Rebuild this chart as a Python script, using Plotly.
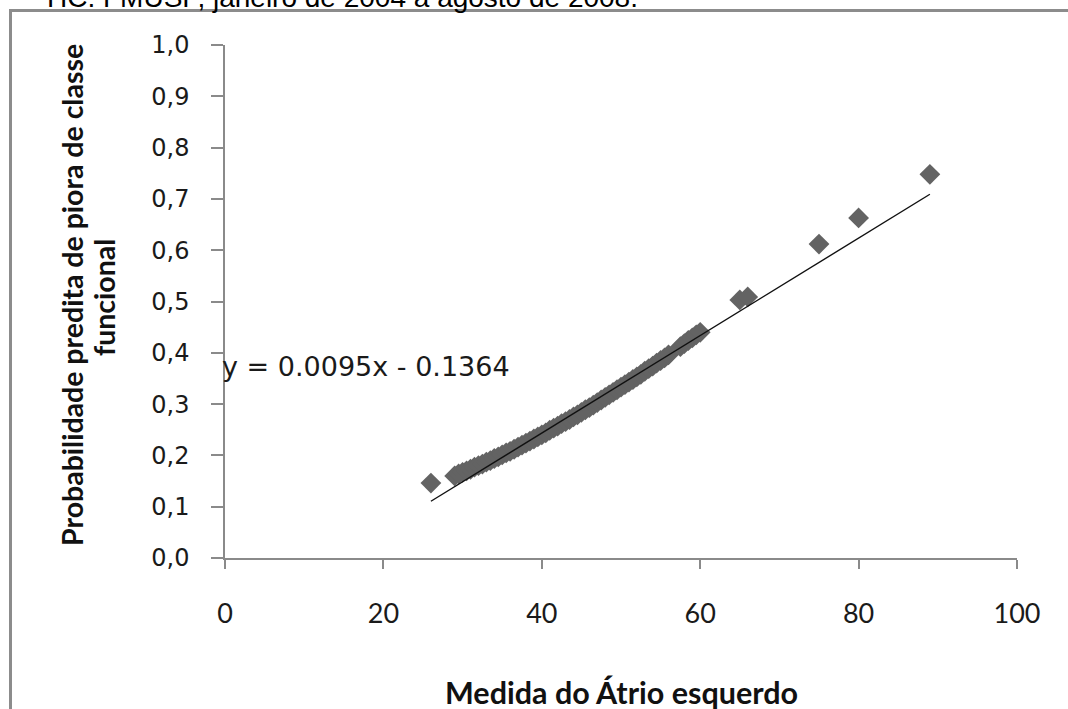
import plotly.graph_objects as go

# ---- data ----
atrio = [26, 29, 29.5, 30, 30.5, 31, 31.5, 32, 32.5, 33, 33.5, 34, 34.5, 35, 35.5,
         36, 36.5, 37, 37.5, 38, 38.5, 39, 39.5, 40, 40.5, 41, 41.5, 42, 42.5,
         43, 43.5, 44, 44.5, 45, 45.5, 46, 46.5, 47, 47.5, 48, 48.5, 49, 49.5,
         50, 50.5, 51, 51.5, 52, 52.5, 53, 53.5, 54, 54.5, 55, 55.5, 56,
         57.5, 58, 58.5, 59, 59.5, 60, 65, 66, 75, 80, 89]
prob = [0.146, 0.160, 0.164, 0.167, 0.170, 0.173, 0.177, 0.180, 0.183, 0.187,
        0.190, 0.194, 0.197, 0.201, 0.205, 0.208, 0.212, 0.216, 0.220, 0.224,
        0.228, 0.232, 0.236, 0.240, 0.244, 0.249, 0.253, 0.257, 0.262, 0.266,
        0.270, 0.275, 0.279, 0.284, 0.289, 0.293, 0.298, 0.303, 0.308, 0.313,
        0.318, 0.323, 0.328, 0.333, 0.338, 0.343, 0.348, 0.353, 0.358, 0.364,
        0.369, 0.374, 0.380, 0.385, 0.390, 0.396,
        0.412, 0.418, 0.424, 0.429, 0.435, 0.440, 0.503, 0.509, 0.612, 0.663, 0.748]

trend_slope = 0.0095
trend_intercept = -0.1364
trend_x = [26, 89]
trend_y = [trend_slope * v + trend_intercept for v in trend_x]

x_ticks = [0, 20, 40, 60, 80, 100]
y_ticks = [0.0, 0.1, 0.2, 0.3, 0.4, 0.5, 0.6, 0.7, 0.8, 0.9, 1.0]

# ---- figure ----
W, H = 1068, 709
L, R, T, B = 225, 51, 45, 151
pw, ph = W - L - R, H - T - B


def px_x(p):
    return (p - L) / pw


def px_y(p):
    return (H - B - p) / ph


fig = go.Figure()
fig.add_trace(go.Scatter(
    x=atrio, y=prob, mode="markers",
    marker=dict(symbol="diamond", size=16, color="#636363", line=dict(width=0)),
    showlegend=False, hoverinfo="x+y"))
fig.add_trace(go.Scatter(
    x=trend_x, y=trend_y, mode="lines",
    line=dict(color="#111111", width=1.4),
    showlegend=False, hoverinfo="skip"))

axis_col = "#8a8a8a"
title_font = dict(family="Lato", size=28.5, color="#111111", weight="bold")
fig.update_layout(
    width=W, height=H,
    margin=dict(l=L, r=R, t=T, b=B, pad=0),
    paper_bgcolor="white", plot_bgcolor="white",
    separators=",.",
    xaxis=dict(range=[0, 100], tickvals=x_ticks, showgrid=False, zeroline=False,
               showline=True, linecolor=axis_col, linewidth=1.5,
               ticks="outside", ticklen=9, tickcolor=axis_col, tickwidth=1.5,
               ticklabelstandoff=22,
               tickfont=dict(family="Lato", size=27, color="#1a1a1a")),
    yaxis=dict(range=[0, 1], tickvals=y_ticks, tickformat=".1f", showgrid=False,
               zeroline=False, showline=True, linecolor=axis_col, linewidth=1.5,
               ticks="outside", ticklen=12, tickcolor=axis_col, tickwidth=1.5,
               ticklabelstandoff=17,
               tickfont=dict(family="DejaVu Sans", size=24, color="#1a1a1a")),
    shapes=[dict(type="rect", xref="paper", yref="paper",
                 x0=px_x(10.5), x1=px_x(1110), y0=px_y(760), y1=px_y(10.5),
                 line=dict(color="#8c8c8c", width=3), layer="below")],
    annotations=[
        dict(text="y = 0.0095x - 0.1364", xref="paper", yref="paper",
             x=px_x(220), y=px_y(366), xanchor="left", yanchor="middle",
             showarrow=False,
             font=dict(family="DejaVu Sans", size=27, color="#1a1a1a")),
        dict(text="Medida do Átrio esquerdo", xref="paper", yref="paper",
             x=px_x(621), y=px_y(692), xanchor="center", yanchor="middle",
             showarrow=False,
             font=dict(family="Lato", size=30.5, color="#111111", weight="bold")),
        dict(text="Probabilidade predita de piora de classe",
             xref="paper", yref="paper", x=px_x(72), y=px_y(295),
             xanchor="center", yanchor="middle", textangle=-90, showarrow=False,
             font=title_font),
        dict(text="funcional",
             xref="paper", yref="paper", x=px_x(104), y=px_y(297),
             xanchor="center", yanchor="middle", textangle=-90, showarrow=False,
             font=title_font),
        dict(text="HC. FMUSP, janeiro de 2004 a agosto de 2008.",
             xref="paper", yref="paper", x=px_x(640), y=px_y(15),
             xanchor="right", yanchor="bottom", showarrow=False,
             font=dict(family="Liberation Sans", size=28, color="#000000")),
    ],
)

fig.write_html("out.html",
               config={"displayModeBar": False},
               post_script="document.body.style.margin='0';"
                           "document.body.style.overflow='hidden';")
